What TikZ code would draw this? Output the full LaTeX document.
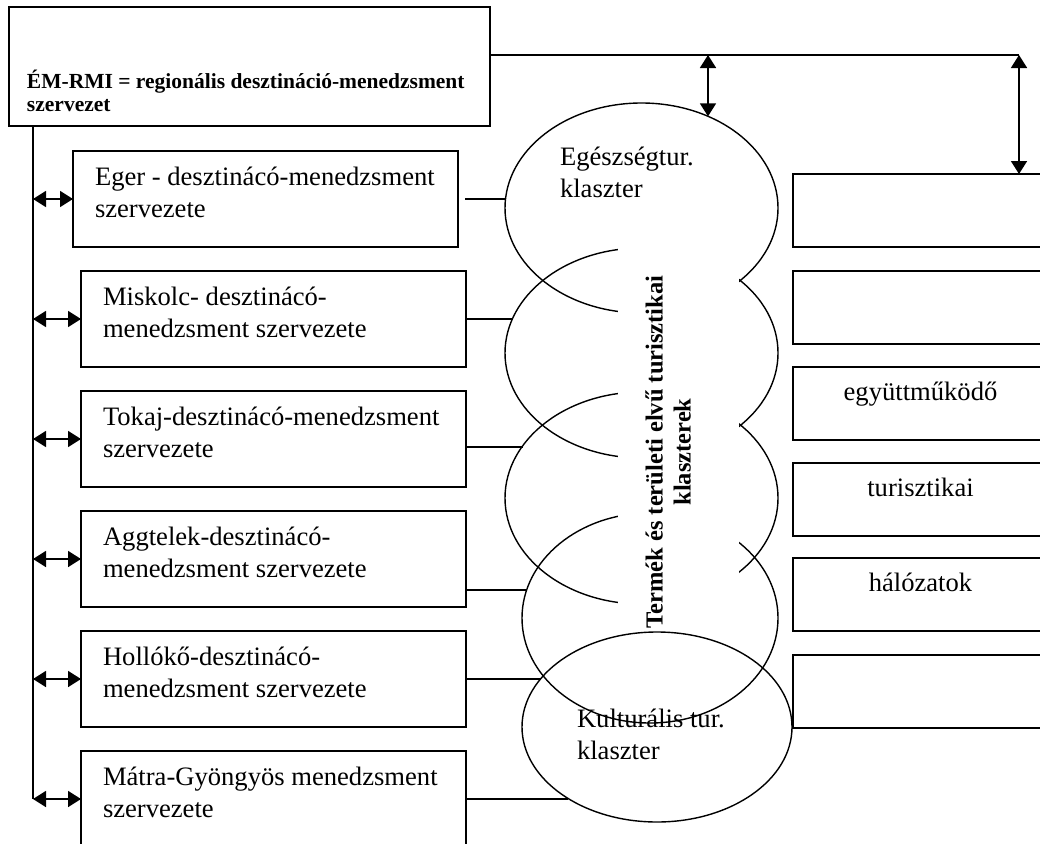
\documentclass[tikz,border=0pt]{standalone}
\usepackage{fontspec}
\setmainfont{Liberation Serif}
\usetikzlibrary{arrows.meta,shapes.geometric}
\newcommand{\bodyfont}{\fontsize{26.6}{32}\selectfont}
\newcommand{\titlefont}{\fontsize{21.5}{24}\selectfont\bfseries}
\newcommand{\rotfont}{\fontsize{24.5}{28}\selectfont\bfseries}
\newcommand{\lt}[1]{\parbox[t]{341pt}{\raggedright #1}}
\begin{document}
\begin{tikzpicture}[x=1pt,y=1pt,
  every node/.style={outer sep=0pt},
  frame/.style={draw, line width=1.8pt},
  thin line/.style={line width=1.5pt},
  lbox/.style={frame, rectangle, inner sep=0pt, minimum width=385pt,
    text height=34pt, text depth=62pt, anchor=north west, font=\bodyfont},
  rbox/.style={frame, rectangle, inner sep=0pt, minimum width=255pt,
    text height=33pt, text depth=40pt, anchor=north west, font=\bodyfont},
  ell/.style={draw, ellipse, line width=1.4pt, inner sep=0pt},
  arr/.style={line width=1.7pt, {Triangle[length=13pt,width=16pt]}-{Triangle[length=13pt,width=16pt]}},
  etext/.style={inner sep=0pt, anchor=base west, font=\bodyfont}
]
\useasboundingbox (0,0) rectangle (1040,-843);
\clip (0,0) rectangle (1040,-843);

% title box
\node[frame, rectangle, inner sep=0pt, minimum width=481pt, text height=81pt,
  text depth=38pt, anchor=north west, font=\titlefont] (title) at (9,-7)
  {\parbox[t]{445pt}{\raggedright ÉM-RMI = regionális desztináció-menedzsment\\szervezet}};

% right boxes
\node[rbox] (r1) at (793,-174) {};
\node[rbox] (r2) at (793,-271) {};
\node[rbox] (r3) at (793,-367) {együttműködő};
\node[rbox] (r4) at (793,-463) {turisztikai};
\node[rbox] (r5) at (793,-558) {hálózatok};
\node[rbox] (r6) at (793,-655) {};

% ellipses
\node[ell, minimum width=273pt, minimum height=210pt] (e1) at (641.5,-208) {};
\node[ell, minimum width=273pt, minimum height=210pt] (e2) at (641.5,-353) {};
\node[ell, minimum width=273pt, minimum height=212pt] (e3) at (641.5,-498) {};
\node[ell, minimum width=256pt, minimum height=210pt] (e4) at (650,-618) {};
\fill[white] (618,-235) rectangle (739,-625);
\node[rotate=90, font=\rotfont, align=center, inner sep=0pt] (tk) at (668,-452)
  {Termék és területi elvű turisztikai\\klaszterek};
\node[ell, minimum width=270pt, minimum height=190pt] (e5) at (657,-727) {};

\node[etext] (e1t) at (560,-165) {\parbox[t]{200pt}{\raggedright Egészségtur.\\klaszter}};
\node[etext] (e5t) at (577,-727) {\parbox[t]{200pt}{\raggedright Kulturális tur.\\klaszter}};

% left boxes
\node[lbox] (eger) at (73,-151) {\lt{Eger - desztinácó-menedzsment\\szervezete}};
\node[lbox] (misk) at (81,-271) {\lt{Miskolc- desztinácó-\\menedzsment szervezete}};
\node[lbox] (tokaj) at (81,-391) {\lt{Tokaj-desztinácó-menedzsment\\szervezete}};
\node[lbox] (aggt) at (81,-511) {\lt{Aggtelek-desztinácó-\\menedzsment szervezete}};
\node[lbox] (hollo) at (81,-631) {\lt{Hollókő-desztinácó-\\menedzsment szervezete}};
\node[lbox] (matra) at (81,-751) {\lt{Mátra-Gyöngyös menedzsment\\szervezete}};

% top connector
\coordinate (j1) at (708,-55);
\coordinate (j2) at (1019,-55);
\draw[frame] (title.east |- j2) -- (j2);
\draw[arr] (j1) -- (j1 |- e1.54);
\draw[arr] (j2) -- (j2 |- r1.north);

% left spine
\coordinate (v0) at ([xshift=24pt]title.south west);
\coordinate (v1) at (v0 |- matra.west);
\draw[frame] (v0) -- (v1);
\foreach \b in {eger,misk,tokaj,aggt,hollo,matra}
  \draw[arr] (v0 |- \b.west) -- (\b.west);

% box to cluster lines
\draw[thin line] ([xshift=7pt]eger.east) -- (eger.east -| e1.176.2);
\draw[thin line] (misk.east) -- (misk.east -| e2.165.2);
\draw[thin line] ([yshift=-8pt]tokaj.east) -- ([yshift=-8pt]tokaj.east -| e3.156.8);
\draw[thin line] ([yshift=-31pt]aggt.east) -- ([yshift=-31pt]aggt.east -| e4.167.2);
\draw[thin line] (hollo.east) -- (hollo.east -| e5.157.6);
\draw[thin line] (matra.east) -- (matra.east -| e5.219.3);
\end{tikzpicture}
\end{document}
